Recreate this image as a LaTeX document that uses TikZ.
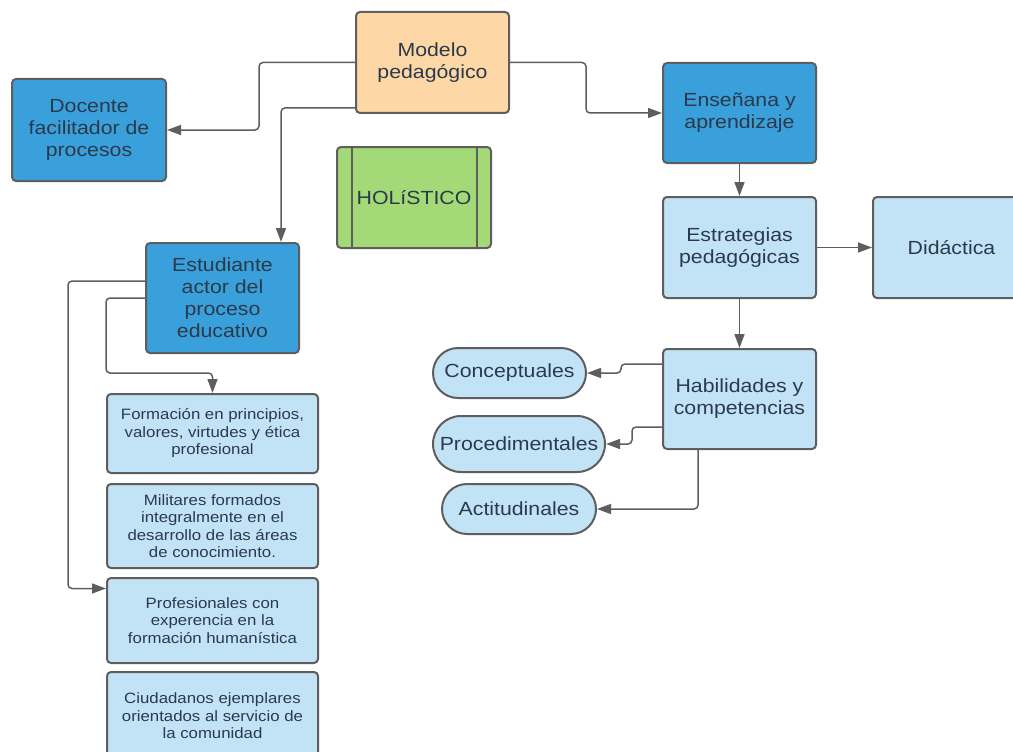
\documentclass[tikz,border=0pt]{standalone}
\usepackage{fontspec}
\setmainfont{Liberation Sans}[FakeStretch=1.12]
\usepackage{xcolor}
\usepackage{tikz}
\usetikzlibrary{positioning, arrows.meta, calc}

\definecolor{edge}{HTML}{5E5E5E}
\definecolor{ink}{HTML}{2B3A4A}
\definecolor{peach}{HTML}{FDD7A5}
\definecolor{darkblue}{HTML}{3AA0DC}
\definecolor{lightblue}{HTML}{C2E3F6}
\definecolor{leaf}{HTML}{A3D977}

\begin{document}
\begin{tikzpicture}[
    x=1pt, y=-1pt,
    box/.style={rectangle, draw=edge, line width=2pt, rounded corners=4pt, align=center, text=ink, inner sep=2pt, font={\fontsize{19}{22}\selectfont}, minimum width=153pt, minimum height=101pt},
    darkbox/.style={box, fill=darkblue},
    lightbox/.style={box, fill=lightblue},
    itembox/.style={box, fill=lightblue, minimum width=211pt, font={\fontsize{15}{17.5}\selectfont}},
    pill/.style={box, fill=lightblue, rounded corners=25pt, minimum height=50pt},
    arrow/.style={-{Triangle[length=14pt, width=10pt]}, line width=1.5pt, draw=edge, rounded corners=4pt}
]
\clip (0,0) rectangle (1013,752);
\fill[white] (0,0) rectangle (1013,752);

% Top of the map
\node[box, fill=peach] (modelo) at (432.5, 62.5) {Modelo\\pedagógico};
\node[darkbox, minimum width=154pt, minimum height=102pt] (docente) at (89, 130) {Docente\\facilitador de\\procesos};
\node[box, fill=leaf, minimum width=154pt] (holistico) at (414, 197.5) {HOLíSTICO};
\draw[edge, line width=2pt] ([xshift=16pt]holistico.north west) -- ([xshift=16pt]holistico.south west);
\draw[edge, line width=2pt] ([xshift=-15pt]holistico.north east) -- ([xshift=-15pt]holistico.south east);

% Student branch
\node[darkbox, minimum height=110pt] (estudiante) at (222.5, 298) {Estudiante\\actor del\\proceso\\educativo};
\node[itembox, minimum height=79pt] (formacion) at (212.5, 433.5) {Formación en principios,\\valores, virtudes y ética\\profesional};
\node[itembox, minimum height=84pt] (militares) at (212.5, 526) {Militares formados\\integralmente en el\\desarrollo de las áreas\\de conocimiento.};
\node[itembox, minimum height=85pt] (profesionales) at (212.5, 620.5) {Profesionales con\\experencia en la\\formación humanística};
\node[itembox, minimum height=88pt] (ciudadanos) at (212.5, 716) {Ciudadanos ejemplares\\orientados al servicio de\\la comunidad};

% Teaching branch
\node[darkbox, minimum height=100pt] (ensenanza) at (739.5, 113) {Enseñana y\\aprendizaje};
\node[lightbox] (estrategias) at (739.5, 247.5) {Estrategias\\pedagógicas};
\node[lightbox, minimum width=157pt] (didactica) at (951.5, 247.5) {Didáctica};
\node[lightbox, minimum height=100pt] (habilidades) at (739.5, 399) {Habilidades y\\competencias};
\node[pill] (conceptuales) at (509.5, 373) {Conceptuales};
\node[pill, minimum width=172pt, minimum height=56pt, rounded corners=28pt] (procedimentales) at (519, 444) {Procedimentales};
\node[pill, minimum width=154pt] (actitudinales) at (519, 509) {Actitudinales};

% Connectors
\draw[arrow] (modelo.west) -- ++(-96, 0) |- (docente.east);
\draw[arrow] ([yshift=6pt]modelo.south west) -| ([xshift=58.5pt]estudiante.north);
\draw[arrow] (modelo.east) -- ++(76, 0) |- (ensenanza.west);
\draw[arrow] (ensenanza) -- (estrategias);
\draw[arrow] (estrategias) -- (didactica);
\draw[arrow] (estrategias) -- (habilidades);
\draw[arrow] ([yshift=35pt]habilidades.west) -- ++(-41, 0) |- (conceptuales.east);
\draw[arrow] ([yshift=-28pt]habilidades.west) -- ++(-30, 0) |- (procedimentales.east);
\draw[arrow] ([xshift=-41.5pt]habilidades.south) |- (actitudinales.east);
\draw[arrow] (estudiante.west) -- ++(-39, 0) -- ++(0, 75) -| (formacion.north);
\draw[arrow] ([yshift=17pt]estudiante.west) -- ++(-77, 0) |- ([yshift=32pt]profesionales.west);

\end{tikzpicture}
\end{document}
